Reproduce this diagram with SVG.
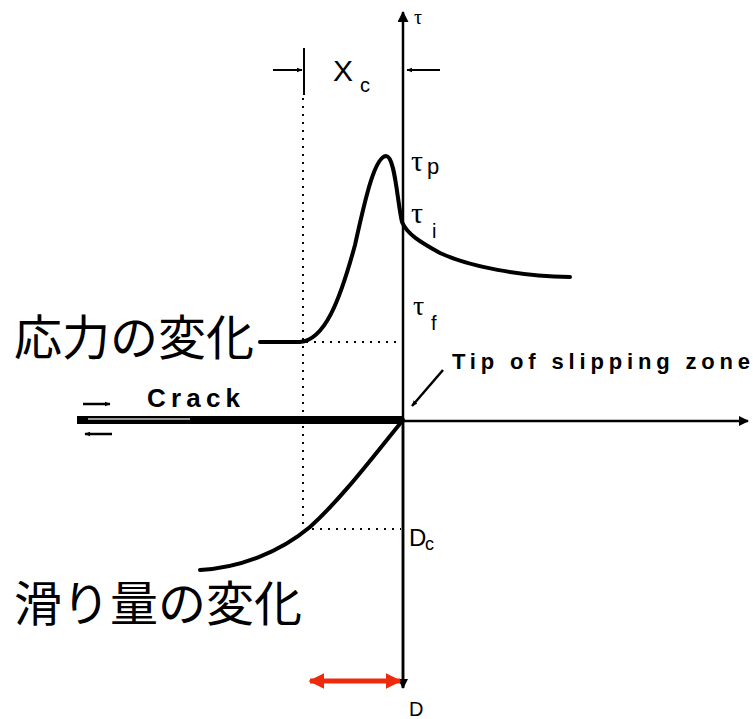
<svg xmlns="http://www.w3.org/2000/svg" width="753" height="719" viewBox="0 0 753 719">
<style>
.ax{stroke:#000;stroke-width:2.5;fill:none}
.dot{stroke:#000;stroke-width:2;stroke-dasharray:2 6;fill:none}
.curve{stroke:#000;stroke-width:4;fill:none;stroke-linecap:round}
.lbl{font-family:"Liberation Sans",Arial,sans-serif;fill:#000}
.tau{font-family:"Liberation Serif","Times New Roman",serif;fill:#000}
.jp{font-family:"Noto Sans CJK JP","Noto Sans CJK SC",sans-serif;fill:#000;font-size:48px}
</style>
<defs>
<marker id="ah" viewBox="0 0 10 10" refX="9" refY="5" markerWidth="6" markerHeight="6" orient="auto" markerUnits="userSpaceOnUse">
<path d="M0,1 L10,5 L0,9 Z" fill="#000"/>
</marker>
<marker id="ahBig" viewBox="0 0 10 10" refX="9" refY="5" markerWidth="16" markerHeight="10" orient="auto" markerUnits="userSpaceOnUse">
<path d="M0,0 L10,5 L0,10 Z" fill="#000"/>
</marker>
<marker id="ahTop" viewBox="0 0 10 10" refX="9" refY="5" markerWidth="26" markerHeight="11" orient="auto" markerUnits="userSpaceOnUse">
<path d="M0,0 L10,5 L0,10 Z" fill="#000"/>
</marker>
<marker id="ahRed" viewBox="0 0 10 10" refX="9" refY="5" markerWidth="16" markerHeight="16" orient="auto-start-reverse" markerUnits="userSpaceOnUse">
<path d="M0,0 L10,5 L0,10 Z" fill="#ee2a0c"/>
</marker>
</defs>

<g id="axes">
<line class="ax" x1="403" y1="688" x2="403" y2="12" marker-end="url(#ahTop)"/>
<line class="ax" x1="403" y1="418" x2="403" y2="688" marker-end="url(#ahBig)"/>
<line x1="403" y1="421" x2="748" y2="421" stroke="#000" stroke-width="2.5" marker-end="url(#ahBig)"/>
<text class="tau" x="414" y="24" font-size="20">τ</text>
</g>

<g id="crack">
<line x1="77" y1="420" x2="403" y2="420" stroke="#000" stroke-width="8"/>
<line x1="88" y1="419" x2="190" y2="419" stroke="#fff" stroke-width="1.5" opacity="0.8"/>
<line x1="83" y1="404" x2="110" y2="404" stroke="#000" stroke-width="2.5" marker-end="url(#ah)"/>
<line x1="112" y1="434" x2="85" y2="434" stroke="#000" stroke-width="2.5" marker-end="url(#ah)"/>
<text class="lbl" x="147" y="407" font-size="26" font-weight="bold" textLength="93" lengthAdjust="spacing">Crack</text>
</g>

<g id="dimension-xc">
<line x1="304" y1="48" x2="304" y2="95" stroke="#000" stroke-width="2"/>
<line x1="273" y1="70" x2="302" y2="70" stroke="#000" stroke-width="2" marker-end="url(#ah)"/>
<line x1="440" y1="70" x2="407" y2="70" stroke="#000" stroke-width="2" marker-end="url(#ah)"/>
<text class="lbl" x="333" y="81" font-size="30">X</text>
<text class="lbl" x="360" y="92" font-size="20">c</text>
</g>

<g id="guides">
<line class="dot" x1="303" y1="98" x2="303" y2="528"/>
<line class="dot" x1="306" y1="342" x2="401" y2="342"/>
<line class="dot" x1="312" y1="529" x2="401" y2="529"/>
</g>

<g id="stress-curve">
<path class="curve" d="M260,342 L300,342 C325,340 340,300 355,245 C366,195 375,157 386,156 C395,156 397,200 402,222 C407,234 420,242 440,253 C470,267 520,276 570,277"/>
<text class="tau" x="411" y="171" font-size="30">τ</text>
<text class="lbl" x="427" y="174" font-size="22">p</text>
<text class="tau" x="411" y="223" font-size="30">τ</text>
<text class="lbl" x="432" y="238" font-size="20">i</text>
<text class="tau" x="413" y="315" font-size="28">τ</text>
<text class="lbl" x="431" y="330" font-size="20">f</text>
</g>

<g id="slip-curve">
<path class="curve" d="M403,420 C372,458 342,498 310,527 C280,552 240,568 200,570"/>
<text class="lbl" x="409" y="546" font-size="24">D</text>
<text class="lbl" x="425" y="550" font-size="18">c</text>
<text class="lbl" x="409" y="716" font-size="20">D</text>
</g>

<g id="tip-label">
<line x1="443" y1="370" x2="412" y2="406" stroke="#000" stroke-width="2.5" marker-end="url(#ah)"/>
<text class="lbl" x="452" y="369" font-size="22" font-weight="bold" textLength="298" lengthAdjust="spacing">Tip of slipping zone</text>
</g>

<g id="label-stress">
<text class="jp" x="14" y="355">応力の変化</text>
</g>
<g id="label-slip">
<text class="jp" x="14" y="621">滑り量の変化</text>
</g>

<g id="red-arrow">
<line x1="310" y1="681" x2="400" y2="681" stroke="#ee2a0c" stroke-width="5" marker-start="url(#ahRed)" marker-end="url(#ahRed)"/>
</g>
</svg>
